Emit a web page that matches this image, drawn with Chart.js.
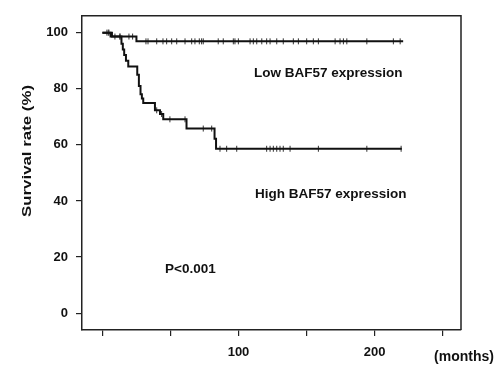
<!DOCTYPE html>
<html>
<head>
<meta charset="utf-8">
<script src="https://cdn.jsdelivr.net/npm/chart.js@4/dist/chart.umd.min.js"></script>
<style>
  html, body { margin: 0; padding: 0; background: #fff; }
  #wrap { width: 500px; height: 365px; position: relative; }
</style>
</head>
<body>
<div id="wrap"><canvas id="c" width="500" height="365"></canvas></div>
<script>
// ---- data ----
const lowTimes = [0, 6, 25, 221];
const lowSurv  = [100, 98.6, 96.9, 96.9];
const highTimes = [0, 7, 14, 15, 16, 17.3, 19, 25.6, 26.8, 28, 29, 30, 38.6, 42.3, 44.7, 61.8, 82.4, 83.5, 220];
const highSurv  = [100, 98.6, 96, 94, 92, 90, 87.9, 85, 81, 78, 76.5, 74.9, 72.3, 71, 69.1, 65.8, 62.2, 58.6, 58.6];
const lowCensor = [3.3, 4.8, 12.9, 19.5, 22.2, 32, 33.5, 39.9, 44.5, 47.2, 50.9, 54.6, 60.7, 65.6, 68, 71.2, 72.9, 74.1, 85.1, 88.8, 96.2, 97.4, 99.9, 108.5, 110.9, 113.4, 117.1, 120.7, 123.2, 128.1, 132.9, 140.3, 144, 150.1, 155, 158.7, 171, 174.6, 177.1, 179.6, 194.3, 213.8, 218.8];
const highCensor = [4.3, 9.2, 12.9, 39.9, 43.5, 49.6, 60.7, 74.1, 80.3, 86.4, 91.3, 98.7, 120.7, 123.2, 125.6, 128.1, 130.5, 132.9, 137.9, 158.7, 194.3, 219.5];
const xTickValues = [0, 50, 100, 150, 200, 250];
const xTickLabels = ['', '', '100', '', '200', ''];
const yTickValues = [0, 20, 40, 60, 80, 100];
const yTickLabels = ['0', '20', '40', '60', '80', '100'];
const seriesNames = ['Low BAF57 expression', 'High BAF57 expression'];
const pValueText = 'P<0.001';
const xUnitText = '(months)';
const yTitleText = 'Survival rate (%)';

// ---- helpers ----
const FONT = '"Liberation Sans", Arial, sans-serif';
function toPoints(ts, vs) { return ts.map((t, i) => ({ x: t, y: vs[i] })); }
function stepValue(ts, vs, t) {
  let v = vs[0];
  for (let i = 0; i < ts.length; i++) { if (ts[i] <= t) v = vs[i]; }
  return v;
}
function censorPoints(cs, ts, vs) { return cs.map(t => ({ x: t, y: stepValue(ts, vs, t) })); }

// text placement (data coordinates) — layout, not data
const notes = [
  { text: seriesNames[0], x: 111.4, y: 85.6 },
  { text: seriesNames[1], x: 112.1, y: 42.3 },
  { text: pValueText, x: 46, y: 15.8 }
];

const decor = {
  id: 'decor',
  afterDraw(chart) {
    const { ctx, chartArea: a, scales } = chart;
    ctx.save();
    // top and right frame
    ctx.strokeStyle = '#222';
    ctx.lineWidth = 1.5;
    ctx.beginPath();
    ctx.moveTo(a.left, a.top);
    ctx.lineTo(a.right, a.top);
    ctx.lineTo(a.right, a.bottom);
    ctx.stroke();
    // annotations
    ctx.fillStyle = '#111';
    ctx.font = 'bold 13.5px ' + FONT;
    ctx.textAlign = 'left';
    ctx.textBaseline = 'middle';
    notes.forEach(n => {
      ctx.fillText(n.text, scales.x.getPixelForValue(n.x), scales.y.getPixelForValue(n.y));
    });
    // unit label
    ctx.font = 'bold 14px ' + FONT;
    ctx.textAlign = 'center';
    ctx.fillText(xUnitText, a.right + 3, 357);
    // y title (stretched like the reference)
    ctx.font = 'bold 13px ' + FONT;
    const w = ctx.measureText(yTitleText).width;
    const sx = 132 / w;
    ctx.translate(27, 151);
    ctx.rotate(-Math.PI / 2);
    ctx.scale(sx, 1);
    ctx.textAlign = 'center';
    ctx.fillText(yTitleText, 0, 0);
    ctx.restore();
  }
};

new Chart(document.getElementById('c'), {
  type: 'line',
  data: {
    datasets: [
      { label: seriesNames[0], data: toPoints(lowTimes, lowSurv), stepped: 'before',
        borderColor: '#111', borderWidth: 2, pointRadius: 0, fill: false },
      { label: seriesNames[1], data: toPoints(highTimes, highSurv), stepped: 'before',
        borderColor: '#111', borderWidth: 2, pointRadius: 0, fill: false },
      { label: 'low censored', data: censorPoints(lowCensor, lowTimes, lowSurv), showLine: false,
        pointStyle: 'line', rotation: 90, pointRadius: 3, borderColor: '#333', borderWidth: 1 },
      { label: 'high censored', data: censorPoints(highCensor, highTimes, highSurv), showLine: false,
        pointStyle: 'line', rotation: 90, pointRadius: 3, borderColor: '#333', borderWidth: 1 }
    ]
  },
  options: {
    responsive: false,
    animation: false,
    events: [],
    layout: { padding: { top: 12, right: 39, left: 0, bottom: 0 } },
    plugins: { legend: { display: false }, tooltip: { enabled: false } },
    scales: {
      x: {
        type: 'linear', min: -15, max: 263.5,
        afterBuildTicks: s => { s.ticks = xTickValues.map(v => ({ value: v })); },
        afterFit: s => { s.height = 35; },
        ticks: {
          autoSkip: false, padding: 9, color: '#111',
          font: { family: FONT, size: 13, weight: 'bold' },
          callback: (v) => { const i = xTickValues.indexOf(v); return i >= 0 ? xTickLabels[i] : ''; }
        },
        grid: { drawOnChartArea: false, drawTicks: true, tickLength: 6, color: '#222', lineWidth: 1.2 },
        border: { display: true, color: '#222', width: 1.5 }
      },
      y: {
        type: 'linear', min: -6, max: 106,
        afterBuildTicks: s => { s.ticks = yTickValues.map(v => ({ value: v })); },
        afterFit: s => { s.width = 82; },
        ticks: {
          autoSkip: false, padding: 8, color: '#111',
          font: { family: FONT, size: 13, weight: 'bold' },
          callback: (v) => { const i = yTickValues.indexOf(v); return i >= 0 ? yTickLabels[i] : ''; }
        },
        grid: { drawOnChartArea: false, drawTicks: true, tickLength: 6, color: '#222', lineWidth: 1.2 },
        border: { display: true, color: '#222', width: 1.5 }
      }
    }
  },
  plugins: [decor]
});
</script>
</body>
</html>
